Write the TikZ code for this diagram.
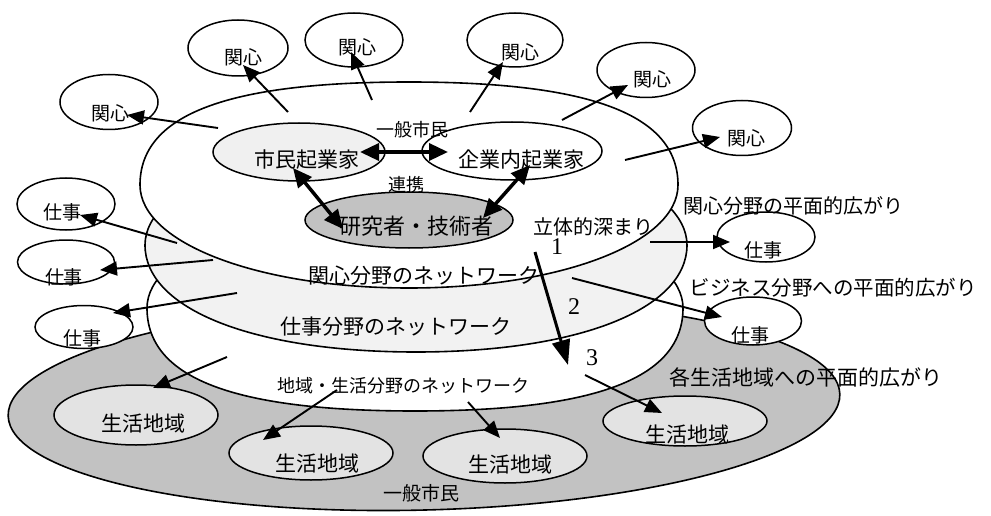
\documentclass[tikz,border=0pt]{standalone}
\usepackage{fontspec}
\newfontfamily\jp{Noto Sans CJK JP}
\newfontfamily\tms{Liberation Serif}
\usetikzlibrary{arrows.meta,shapes.geometric,calc}
\begin{document}
\begin{tikzpicture}[x=1pt,y=-1pt,
  layer/.style={draw=black,line width=1.6pt},
  ell/.style={draw=black,ellipse,line width=1.5pt,inner sep=0pt,fill=white},
  jt/.style={font=\jp\fontsize{#1pt}{#1pt}\selectfont,inner sep=0pt},
  num/.style={font=\tms\fontsize{24pt}{24pt}\selectfont,inner sep=0pt},
  arrK/.style={line width=1.9pt,-{Triangle[length=17pt,width=14pt]}},
  arrD/.style={line width=3.5pt,{Triangle[length=19pt,width=17pt]}-{Triangle[length=19pt,width=17pt]}},
  arrB/.style={line width=3pt,-{Triangle[length=25pt,width=18pt]}},
  light/.style={fill=gray!10},
  dark/.style={fill=gray!48},
  mid/.style={fill=gray!22}
]
\useasboundingbox (0,0) rectangle (991,516);

% base layer (dark)
\draw[layer,dark,rotate around={1.5:(424,405)}] (424,405) ellipse [x radius=416pt, y radius=105pt];
% local life network (white)
\draw[layer,fill=white] (147,308) .. controls (147,251) and (268,205) .. (415,205)
  .. controls (562,205) and (683,251) .. (683,308)
  .. controls (683,378) and (597,411) .. (415,411)
  .. controls (233,411) and (147,378) .. cycle;
% work network (light)
\draw[layer,light] (145,245) .. controls (145,186) and (267,138) .. (416,138)
  .. controls (565,138) and (687,186) .. (687,245)
  .. controls (687,309) and (579,352) .. (416,352)
  .. controls (253,352) and (145,309) .. cycle;
% interest network (white, top)
\draw[layer,fill=white] (140,185) .. controls (140,115) and (226,82) .. (409,82)
  .. controls (592,82) and (678,115) .. (678,185)
  .. controls (678,243) and (560,288) .. (409,288)
  .. controls (258,288) and (140,243) .. cycle;

% satellite ellipses
\node[ell,minimum width=98pt,minimum height=55pt] (k1) at (109,102) {};
\node[ell,minimum width=100pt,minimum height=56pt] (k2) at (238,48) {};
\node[ell,minimum width=98pt,minimum height=54pt] (k3) at (354,40) {};
\node[ell,minimum width=96pt,minimum height=54pt] (k4) at (515,40) {};
\node[ell,minimum width=98pt,minimum height=55pt] (k5) at (646,70) {};
\node[ell,minimum width=99pt,minimum height=55pt] (k6) at (742,128) {};
\node[ell,minimum width=98pt,minimum height=52pt] (s1) at (66,204) {};
\node[ell,minimum width=97pt,minimum height=44pt] (s2) at (66,262) {};
\node[ell,minimum width=98pt,minimum height=43pt] (s3) at (84,327) {};
\node[ell,minimum width=98pt,minimum height=50pt] (s4) at (766,237) {};
\node[ell,minimum width=97pt,minimum height=48pt] (s5) at (753,321) {};

% inner ellipses
\node[ell,fill=gray!12,minimum width=172pt,minimum height=58pt] (shimin) at (299,152) {};
\node[ell,minimum width=180pt,minimum height=58pt] (kigyo) at (512,151) {};
\node[ell,dark,minimum width=208pt,minimum height=56pt] (kenkyu) at (409,220) {};

% living area ellipses
\node[ell,mid,minimum width=164pt,minimum height=60pt] (L1) at (136,415) {};
\node[ell,mid,minimum width=164pt,minimum height=54pt] (L2) at (311,453) {};
\node[ell,mid,minimum width=164pt,minimum height=54pt] (L3) at (505,456) {};
\node[ell,mid,minimum width=164pt,minimum height=50pt] (L4) at (685,421) {};

% arrow start points
\coordinate (a1) at (218,128);
\coordinate (a2) at (288,112);
\coordinate (a3) at (372,100);
\coordinate (a4) at (470,112);
\coordinate (a5) at (562,120);
\coordinate (a6) at (625,160);
\coordinate (b1) at (177,243);
\coordinate (b2) at (213,260);
\coordinate (b3) at (237,293);
\coordinate (b4) at (650,242);
\coordinate (b5) at (572,278);
\coordinate (c1) at (227,357);
\coordinate (c2) at (337,390);
\coordinate (c3) at (468,402);
\coordinate (c4) at (585,375);
\coordinate (deepS) at (535,252);
\coordinate (deepE) at (568,365);

% interest arrows
\draw[arrK] (a1) -- ($(k1)+(18,13)$);
\draw[arrK] (a2) -- ($(k2)+(5,17)$);
\draw[arrK] (a3) -- ($(k3)+(-3,12)$);
\draw[arrK] (a4) -- ($(k4)+(-12,22)$);
\draw[arrK] (a5) -- ($(k5)+(-18,15)$);
\draw[arrK] (a6) -- ($(k6)+(-22,9)$);
% work arrows
\draw[arrK] (b1) -- ($(s1)+(14,11)$);
\draw[arrK] (b2) -- ($(s2)+(34,8)$);
\draw[arrK] (b3) -- ($(s3)+(29,-14)$);
\draw[arrK] (b4) -- ($(s4)+(-36,5)$);
\draw[arrK] (b5) -- ($(s5)+(-31,-4)$);
% living area arrows
\draw[arrK] (c1) -- ($(L1)+(17,-27)$);
\draw[arrK] (c2) -- ($(L2)+(-48,-13)$);
\draw[arrK] (c3) -- ($(L3)+(-5,-18)$);
\draw[arrK] (c4) -- ($(L4)+(-23,-8)$);
% cooperation arrows
\draw[arrD] ($(shimin)+(61,0)$) -- ($(kigyo)+(-64,1)$);
\draw[arrD] ($(shimin)+(-6,16)$) -- ($(kenkyu)+(-66,9)$);
\draw[arrD] ($(kigyo)+(18,14)$) -- ($(kenkyu)+(74,-2)$);
% depth arrow
\draw[arrB] (deepS) -- (deepE);

% texts
\node[jt=19] (k1t) at (110,113) {関心};
\node[jt=19] (k2t) at (243,57) {関心};
\node[jt=19] (k3t) at (357,47) {関心};
\node[jt=19] (k4t) at (520,52) {関心};
\node[jt=19] (k5t) at (652,79) {関心};
\node[jt=19] (k6t) at (746,138) {関心};
\node[jt=19] (s1t) at (62,212) {仕事};
\node[jt=19] (s2t) at (64,277) {仕事};
\node[jt=19] (s3t) at (82,338) {仕事};
\node[jt=19] (s4t) at (763,250) {仕事};
\node[jt=19] (s5t) at (750,335) {仕事};
\node[jt=21] (shimint) at (307,160) {市民起業家};
\node[jt=21] (kigyot) at (521,160) {企業内起業家};
\node[jt=22] (kenkyut) at (416,226) {研究者・技術者};
\node[jt=18] (ippan1) at (412,130) {一般市民};
\node[jt=18] (renkei) at (406,185) {連携};
\node[jt=20] (hiro1) at (793,206) {関心分野の平面的広がり};
\node[jt=20] (rittai) at (593,227) {立体的深まり};
\node[num] (n1) at (557,247) {1};
\node[num] (n2) at (574,307) {2};
\node[num] (n3) at (592,358) {3};
\node[jt=20.5] (hiro2) at (833,288) {ビジネス分野への平面的広がり};
\node[jt=21] (hiro3) at (806,377) {各生活地域への平面的広がり};
\node[jt=21] (net1) at (424,276) {関心分野のネットワーク};
\node[jt=21] (net2) at (396,327) {仕事分野のネットワーク};
\node[jt=18] (net3) at (403,386) {地域・生活分野のネットワーク};
\node[jt=19] (ippan2) at (421,493) {一般市民};
\node[jt=21] (L1t) at (143,424) {生活地域};
\node[jt=21] (L2t) at (317,464) {生活地域};
\node[jt=21] (L3t) at (510,465) {生活地域};
\node[jt=21] (L4t) at (687,435) {生活地域};
\end{tikzpicture}
\end{document}
